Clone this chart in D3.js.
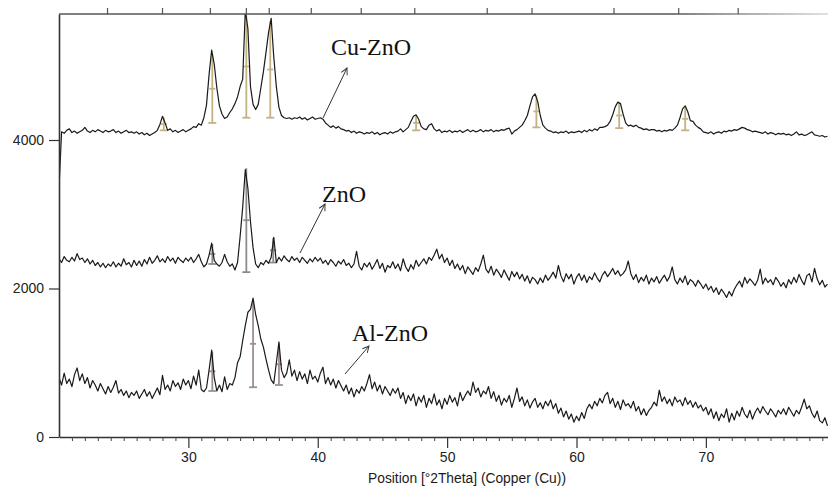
<!DOCTYPE html>
<html>
<head>
<meta charset="utf-8">
<script src="https://cdn.jsdelivr.net/npm/d3@7"></script>
<style>
  body { margin: 0; background: #fff; }
  svg { display: block; }
  .tick text { font-family: "Liberation Sans", Arial, sans-serif; }
</style>
</head>
<body>
<svg id="chart" width="828" height="493"></svg>
<script>
// scan: 20.0 .. 79.4 deg 2theta, one reading every 0.2 deg
var thetaStart = 20.0;
var thetaStep = 0.2;

var cuZnO = [
    3350, 4110, 4090, 4130, 4150, 4100, 4120, 4090, 4110, 4130,
    4170, 4120, 4100, 4130, 4110, 4140, 4120, 4100, 4130, 4110,
    4120, 4140, 4100, 4120, 4090, 4110, 4130, 4100, 4110, 4090,
    4110, 4080, 4100, 4070, 4090, 4060, 4080, 4100, 4130, 4210,
    4320, 4230, 4130, 4150, 4110, 4130, 4100, 4120, 4140, 4110,
    4130, 4150, 4180, 4170, 4220, 4200, 4300, 4470, 4880, 5210,
    5020, 4700, 4460, 4350, 4290, 4310, 4370, 4420, 4490, 4580,
    4720, 4820, 5750, 5500, 4720, 4480, 4410, 4480, 4700, 4920,
    5180, 5450, 5640, 5120, 4720, 4440, 4330, 4300, 4290, 4300,
    4280, 4300, 4290, 4310, 4280, 4300, 4270, 4290, 4310, 4280,
    4290, 4300, 4280, 4230, 4200, 4170, 4190, 4160, 4180, 4150,
    4140, 4120, 4130, 4100, 4120, 4090, 4110, 4100, 4080, 4100,
    4090, 4110, 4080, 4100, 4070, 4090, 4100, 4080, 4110, 4090,
    4110, 4120, 4150, 4110, 4140, 4170, 4250, 4320, 4340, 4280,
    4180, 4150, 4140, 4200, 4220, 4150, 4120, 4140, 4100, 4120,
    4110, 4130, 4100, 4120, 4110, 4130, 4100, 4120, 4140, 4110,
    4130, 4110, 4120, 4140, 4110, 4130, 4120, 4140, 4110, 4130,
    4120, 4140, 4130, 4150, 4160, 4080, 4120, 4140, 4170, 4200,
    4260, 4330, 4460, 4580, 4620, 4520, 4330, 4200, 4160, 4130,
    4120, 4100, 4110, 4090, 4110, 4100, 4120, 4090, 4110, 4100,
    4110, 4120, 4100, 4130, 4110, 4140, 4120, 4150, 4130, 4170,
    4170, 4180, 4200, 4250, 4340, 4450, 4510, 4490, 4350, 4230,
    4190, 4200, 4180, 4200, 4170, 4160, 4140, 4150, 4130, 4140,
    4140, 4120, 4130, 4110, 4130, 4120, 4140, 4130, 4160, 4200,
    4300, 4420, 4460, 4380, 4260, 4250, 4200, 4170, 4150, 4110,
    4100, 4090, 4110, 4080, 4100, 4110, 4090, 4120, 4110, 4130,
    4120, 4140, 4130, 4150, 4170, 4160, 4140, 4130, 4110, 4120,
    4110, 4100, 4090, 4110, 4080, 4100, 4090, 4070, 4090, 4080,
    4090, 4070, 4080, 4060, 4080, 4110, 4070, 4080, 4060, 4070,
    4090, 4110, 4070, 4060, 4050, 4060, 4040, 4050
];

var znO = [
    2400, 2350, 2430, 2380, 2360, 2420, 2370, 2470, 2390, 2410,
    2350, 2400, 2330, 2380, 2310, 2350, 2290, 2340, 2280, 2330,
    2300, 2360, 2290, 2340, 2300, 2400, 2320, 2350, 2290, 2380,
    2310, 2370, 2300, 2390, 2330, 2420, 2340, 2380, 2440, 2360,
    2400, 2350, 2430, 2370, 2410, 2340, 2420, 2380, 2350, 2410,
    2370, 2420, 2350, 2400, 2460, 2360, 2290, 2330, 2450, 2610,
    2380, 2330, 2300, 2350, 2460, 2360, 2300, 2330, 2250, 2350,
    2700, 3100, 3600, 3350, 2900, 2550, 2330, 2280, 2350, 2320,
    2380, 2340, 2420, 2690, 2350, 2420, 2370, 2440, 2390, 2360,
    2430, 2380, 2410, 2350, 2420, 2380, 2340, 2400, 2360, 2420,
    2370, 2410, 2340, 2380, 2320, 2390, 2350, 2300, 2370, 2330,
    2390, 2310, 2340, 2280, 2330, 2500, 2300, 2250, 2340, 2290,
    2350, 2260, 2320, 2390, 2270, 2340, 2220, 2310, 2280, 2360,
    2270, 2330, 2240, 2400, 2290, 2230, 2320, 2260, 2380, 2300,
    2350, 2400, 2330, 2420, 2380, 2450, 2530, 2400, 2460, 2350,
    2410, 2310, 2380, 2270, 2330, 2250, 2310, 2200, 2290, 2240,
    2190, 2280, 2230, 2330, 2450, 2260, 2210, 2300, 2180, 2260,
    2210, 2150, 2250, 2180, 2110, 2230, 2160, 2220, 2130, 2190,
    2100, 2170, 2070, 2150, 2120, 2060, 2140, 2080, 2180, 2110,
    2160, 2220, 2140, 2310, 2170, 2090, 2200, 2130, 2190, 2060,
    2150, 2200, 2110, 2180, 2080, 2160, 2120, 2210, 2140, 2090,
    2180, 2230, 2160, 2210, 2270, 2190, 2240, 2170, 2200, 2250,
    2370, 2200, 2120, 2190, 2080, 2150, 2100, 2180, 2060, 2140,
    2090, 2160, 2070, 2130, 2180, 2100, 2160, 2290, 2120, 2060,
    2140, 2080, 2170, 2050, 2120, 2090, 2030, 2110, 2060, 2000,
    2060, 1980, 2030, 1950, 2010, 1920, 1990, 1940, 1880, 1960,
    1900, 1990, 2050, 2100, 2020, 2150, 2070, 2130, 2090, 2040,
    2110, 2260, 2060, 2140, 2080, 2120, 2050, 2150, 2100, 2030,
    2080, 2010, 2120, 2060, 2150, 2080, 2190, 2110, 2050, 2170,
    2200, 2090, 2270, 2130, 2050, 2110, 2020, 2060
];

var alZnO = [
    800, 700, 860, 720, 780, 680, 840, 930, 760, 850,
    720, 800, 660, 760, 700, 620, 720, 650, 580, 680,
    600, 670, 760, 590, 640, 560, 620, 530, 600, 560,
    620, 520, 580, 640, 550, 610, 520, 590, 660, 570,
    830, 640, 700, 620, 760, 680, 730, 640, 780, 700,
    760, 650, 820, 700, 900, 640, 610, 660, 900, 1170,
    800, 620, 700, 610, 810, 640, 720, 700, 800, 1000,
    1080, 1300, 1500, 1680, 1720, 1870, 1650, 1500, 1320, 1210,
    1050, 900, 770, 720, 1000, 1280, 900, 800, 860, 1040,
    820, 900, 760, 880, 780, 850, 720, 900, 780, 820,
    740, 860, 940, 720, 800, 700, 780, 660, 760, 690,
    620, 700, 580, 660, 540, 640, 590, 680, 620, 720,
    840, 650, 740, 620, 700, 580, 680, 620, 560, 650,
    590, 660, 520, 600, 450, 560, 490, 580, 420, 540,
    470, 560, 400, 520, 450, 580, 430, 500, 380, 520,
    440, 560, 470, 530, 420, 600, 490, 560, 620, 560,
    740, 600, 660, 540, 620, 580, 680, 520, 610, 480,
    560, 430, 520, 470, 560, 400, 520, 660, 480, 540,
    420, 500, 390, 470, 520, 400, 460, 380, 480, 420,
    500, 380, 450, 320, 390, 270, 350, 240, 310, 200,
    280, 220, 330, 250, 380, 440, 380, 480, 420, 520,
    460, 560, 600, 450, 520, 400, 480, 370, 500, 420,
    450, 390, 480, 350, 410, 300, 380, 290, 360, 400,
    470, 420, 630, 480, 540, 450, 510, 420, 540, 470,
    500, 420, 530, 440, 490, 400, 470, 390, 430, 350,
    400, 300, 380, 250, 340, 220, 310, 260, 380, 200,
    320, 230, 350, 280, 400, 310, 260, 360, 240, 330,
    390, 320, 410, 350, 300, 380, 330, 270, 360, 310,
    380, 300, 400, 340, 280, 360, 310, 400, 510, 380,
    420, 320, 260, 350, 220, 190, 260, 150
];

// fitted peak sticks (position, top, foot)
var cuPeakPos = [28.1, 31.85, 34.48, 36.33, 47.6, 56.9, 63.3, 68.4];
var cuPeakTop = [4300, 5150, 5680, 5600, 4330, 4600, 4500, 4440];
var cuPeakBase = [4130, 4230, 4300, 4300, 4130, 4170, 4160, 4130];

var znPeakPos = [31.85, 34.48, 36.56];
var znPeakTop = [2600, 3620, 2680];
var znPeakBase = [2330, 2220, 2350];

var alPeakPos = [31.85, 35.0, 37.0];
var alPeakTop = [1150, 1840, 1260];
var alPeakBase = [620, 670, 700];

// reference lines marked on the top border
var refLinePos = [23.75, 28.0, 31.7, 34.48, 36.25, 39.5, 43.36, 47.5, 53.1, 56.56, 62.9, 67.9, 72.5];

var xMajor = [30, 40, 50, 60, 70];
var yMajor = [0, 2000, 4000];
var xTitle = 'Position [°2Theta] (Copper (Cu))';

var svg = d3.select('#chart');
var plotLeft = 59, plotRight = 828, plotTop = 14, plotBottom = 437;

var x = d3.scaleLinear().domain([20, 79.44]).range([plotLeft, plotRight]);
var y = d3.scaleLinear().domain([0, 5697]).range([plotBottom, plotTop]);

function thetaAt(i) { return thetaStart + i * thetaStep; }

var defs = svg.append('defs');
defs.append('clipPath').attr('id', 'plot')
    .append('rect')
    .attr('x', plotLeft).attr('y', plotTop)
    .attr('width', plotRight - plotLeft).attr('height', plotBottom - plotTop);

var grad = defs.append('linearGradient')
    .attr('id', 'topfade')
    .attr('gradientUnits', 'userSpaceOnUse')
    .attr('x1', plotLeft).attr('x2', plotRight).attr('y1', 0).attr('y2', 0);
grad.append('stop').attr('offset', '0.8').attr('stop-color', '#555');
grad.append('stop').attr('offset', '1').attr('stop-color', '#d8d8d8');

defs.append('marker')
    .attr('id', 'arrow')
    .attr('viewBox', '0 0 10 10')
    .attr('refX', 9).attr('refY', 5)
    .attr('markerWidth', 8).attr('markerHeight', 8)
    .attr('markerUnits', 'userSpaceOnUse')
    .attr('orient', 'auto')
    .append('path')
    .attr('d', 'M1,1 L9,5 L1,9')
    .attr('fill', 'none')
    .attr('stroke', '#333')
    .attr('stroke-width', 1.2);

var plot = svg.append('g').attr('clip-path', 'url(#plot)');

function drawSticks(pos, tops, bases, color) {
    var g = plot.append('g').attr('stroke', color).attr('stroke-width', 1.8);
    pos.forEach(function (p, i) {
        var px = x(p);
        var mid = (tops[i] + bases[i]) / 2;
        g.append('line')
            .attr('x1', px).attr('x2', px)
            .attr('y1', y(tops[i])).attr('y2', y(bases[i]));
        g.append('line')
            .attr('x1', px - 4).attr('x2', px + 4)
            .attr('y1', y(bases[i])).attr('y2', y(bases[i]));
        g.append('line')
            .attr('x1', px - 3).attr('x2', px + 3)
            .attr('y1', y(mid)).attr('y2', y(mid));
    });
}

drawSticks(cuPeakPos, cuPeakTop, cuPeakBase, '#c3b384');
drawSticks(znPeakPos, znPeakTop, znPeakBase, '#8c8c8c');
drawSticks(alPeakPos, alPeakTop, alPeakBase, '#9a9090');

var line = d3.line()
    .x(function (d, i) { return x(thetaAt(i)); })
    .y(function (d) { return y(d); });

[cuZnO, znO, alZnO].forEach(function (series) {
    plot.append('path')
        .datum(series)
        .attr('fill', 'none')
        .attr('stroke', '#1a1a1a')
        .attr('stroke-width', 1.2)
        .attr('stroke-linejoin', 'round')
        .attr('d', line);
});

// axes
var xAxis = svg.append('g')
    .attr('transform', 'translate(0,' + plotBottom + ')')
    .call(d3.axisBottom(x).tickValues(xMajor).tickSize(11).tickPadding(4).tickSizeOuter(0));
xAxis.select('.domain').attr('stroke', '#333').attr('stroke-width', 1.6);
xAxis.selectAll('.tick line').attr('stroke', '#333').attr('stroke-width', 1.2);
xAxis.selectAll('.tick text').attr('font-size', 14).attr('fill', '#222');

var minors = d3.range(21, 80).filter(function (v) { return xMajor.indexOf(v) < 0; });
svg.append('g')
    .attr('transform', 'translate(0,' + plotBottom + ')')
    .call(d3.axisBottom(x).tickValues(minors).tickSize(4).tickFormat('').tickSizeOuter(0))
    .call(function (g) { g.select('.domain').remove(); })
    .selectAll('.tick line').attr('stroke', '#444');

var yAxis = svg.append('g')
    .attr('transform', 'translate(' + plotLeft + ',0)')
    .call(d3.axisLeft(y).tickValues(yMajor).tickSize(10).tickPadding(5).tickSizeOuter(0).tickFormat(d3.format('d')));
yAxis.select('.domain').attr('stroke', '#333').attr('stroke-width', 1.6);
yAxis.selectAll('.tick line').attr('stroke', '#333').attr('stroke-width', 1.2);
yAxis.selectAll('.tick text').attr('font-size', 14).attr('fill', '#222');

// top border with reference ticks
svg.append('line')
    .attr('x1', plotLeft).attr('x2', plotRight)
    .attr('y1', plotTop).attr('y2', plotTop)
    .attr('stroke', 'url(#topfade)')
    .attr('stroke-width', 1.6);
svg.append('g').selectAll('line')
    .data(refLinePos)
    .enter().append('line')
    .attr('x1', function (d) { return x(d); })
    .attr('x2', function (d) { return x(d); })
    .attr('y1', plotTop - 6).attr('y2', plotTop)
    .attr('stroke', '#555')
    .attr('stroke-width', 1.2);

svg.append('text')
    .attr('x', 467).attr('y', 483)
    .attr('text-anchor', 'middle')
    .attr('font-family', '"Liberation Sans", Arial, sans-serif')
    .attr('font-size', 13.8)
    .attr('fill', '#1a1a1a')
    .text(xTitle);

// sample labels with pointers
var labels = [
    { text: 'Cu-ZnO', tx: 331, ty: 55, x1: 323, y1: 118, x2: 347, y2: 68 },
    { text: 'ZnO', tx: 322, ty: 202, x1: 300, y1: 253, x2: 325, y2: 204 },
    { text: 'Al-ZnO', tx: 352, ty: 341, x1: 345, y1: 374, x2: 369, y2: 346 }
];
labels.forEach(function (l) {
    svg.append('text')
        .attr('x', l.tx).attr('y', l.ty)
        .attr('font-family', '"Liberation Serif", "Times New Roman", serif')
        .attr('font-size', 24)
        .attr('fill', '#111')
        .text(l.text);
    svg.append('line')
        .attr('x1', l.x1).attr('y1', l.y1)
        .attr('x2', l.x2).attr('y2', l.y2)
        .attr('stroke', '#333')
        .attr('stroke-width', 1)
        .attr('marker-end', 'url(#arrow)');
});
</script>
</body>
</html>
